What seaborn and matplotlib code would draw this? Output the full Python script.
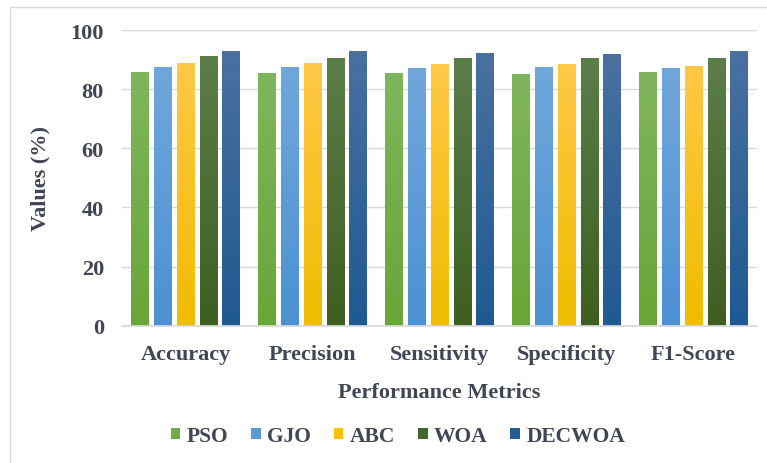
import numpy as np
import pandas as pd
import matplotlib
matplotlib.use("Agg")
import matplotlib.pyplot as plt
import seaborn as sns
from matplotlib.colors import LinearSegmentedColormap
from matplotlib.patches import Rectangle

# values
metrics = ["Accuracy", "Precision", "Sensitivity", "Specificity", "F1-Score"]
methods = ["PSO", "GJO", "ABC", "WOA", "DECWOA"]
pso = [85.9, 85.4, 85.4, 85.0, 85.9]
gjo = [87.6, 87.6, 87.2, 87.6, 87.2]
abc = [88.9, 88.9, 88.5, 88.5, 88.0]
woa = [91.1, 90.6, 90.6, 90.6, 90.6]
decwoa = [92.9, 92.9, 92.3, 92.0, 92.9]
colors = ["#70AD47", "#5B9BD5", "#FFC000", "#43682B", "#255E91"]
# top / bottom shades for the gradient fill
tops = ["#7FB65C", "#70A7DB", "#FFC846", "#5B7E4A", "#4A70A0"]
bottoms = ["#68A638", "#4C91D3", "#F0BC00", "#3E5F20", "#1F5A92"]

rows = []
for name, vals in zip(methods, [pso, gjo, abc, woa, decwoa]):
    for m, v in zip(metrics, vals):
        rows.append({"Metric": m, "Method": name, "Value": v})
df = pd.DataFrame(rows)

sns.set_theme(style="white")
plt.rcParams["font.family"] = ["Liberation Serif", "DejaVu Serif"]
plt.rcParams["font.weight"] = "bold"
txt = "#404654"

fig = plt.figure(figsize=(7.67, 4.64), dpi=100)
ax = fig.add_axes([0.159, 0.296, 0.828, 0.637])

sns.barplot(data=df, x="Metric", y="Value", hue="Method", hue_order=methods,
            order=metrics, palette=colors, width=0.9, gap=0.23, saturation=1,
            edgecolor="none", ax=ax)

# gradient fill inside each bar
grad = np.linspace(0, 1, 100).reshape(-1, 1)
for i, cont in enumerate(ax.containers):
    cmap = LinearSegmentedColormap.from_list("g%d" % i, [bottoms[i], tops[i]])
    for bar in cont:
        x0, y0 = bar.get_x(), bar.get_y()
        w, h = bar.get_width(), bar.get_height()
        im = ax.imshow(grad, extent=[x0, x0 + w, y0, y0 + h], origin="lower",
                       cmap=cmap, aspect="auto", zorder=bar.get_zorder() + 0.1)
        im.set_clip_path(bar)

ax.set_ylim(0, 100)
ax.set_xlim(-0.5, 4.5)
ax.set_yticks([0, 20, 40, 60, 80, 100])
ax.yaxis.grid(True, color="#D9D9D9", linewidth=1)
ax.set_axisbelow(True)
for s in ["top", "right", "left"]:
    ax.spines[s].set_visible(False)
ax.spines["bottom"].set_color("#D9D9D9")
ax.tick_params(axis="y", length=0, pad=13, labelsize=16, labelcolor=txt)
ax.tick_params(axis="x", length=0, pad=13, labelsize=16, labelcolor=txt)
for lab in ax.get_xticklabels() + ax.get_yticklabels():
    lab.set_fontweight("bold")

ax.set_xlabel("Performance Metrics", fontsize=16, fontweight="bold", color=txt)
ax.set_ylabel("Values (%)", fontsize=16, fontweight="bold", color=txt)
ax.yaxis.set_label_coords(-0.113, 0.5)
ax.xaxis.set_label_coords(0.5, -0.19)

ax.get_legend().remove()
handles, labels = ax.get_legend_handles_labels()
fig.legend(handles, labels, loc="center", bbox_to_anchor=(398 / 767, 1 - 437 / 464),
           ncol=5, frameon=False, handlelength=0.45, handleheight=0.45,
           handletextpad=0.3, columnspacing=1.05,
           prop={"size": 15.5, "weight": "bold"}, labelcolor=txt)

# light frame around the chart, as in the source image
fig.patches.append(Rectangle((10 / 767, -0.1), 1.2, 1.1 - 8 / 464,
                             transform=fig.transFigure, fill=False,
                             edgecolor="#D9D9D9", linewidth=1))

fig.savefig("out.png", dpi=100)
